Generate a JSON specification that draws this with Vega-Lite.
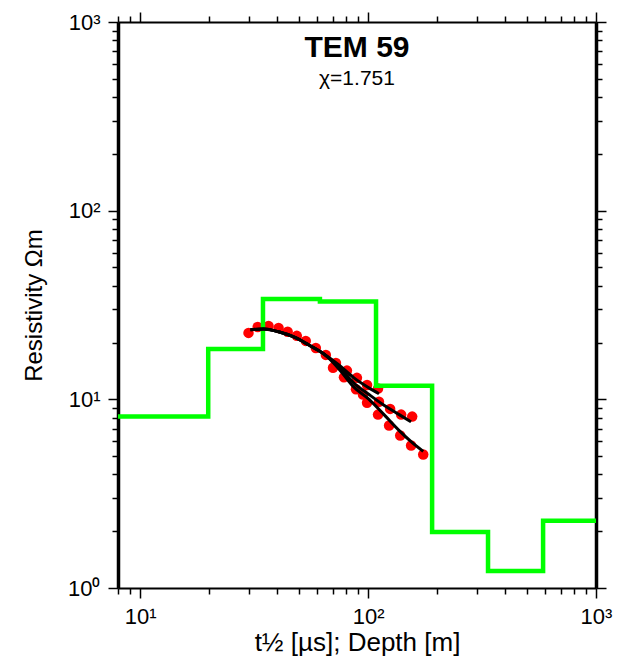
{
  "$schema": "https://vega.github.io/schema/vega-lite/v6.json",
  "width": 478,
  "height": 566,
  "autosize": {"type": "none"},
  "padding": {"left": 118, "top": 22, "right": 21, "bottom": 76},
  "background": "white",
  "config": {
    "view": {"stroke": null},
    "font": "Liberation Sans",
    "axis": {
      "grid": false,
      "domainColor": "black",
      "tickColor": "black",
      "labelColor": "black",
      "titleColor": "black",
      "tickWidth": 1.5,
      "labelFont": "Liberation Sans",
      "titleFont": "Liberation Sans",
      "titleFontWeight": "normal",
      "labelFlush": false,
      "labelOverlap": false,
      "labelBound": false
    }
  },
  "title": {
    "text": "TEM 59",
    "subtitle": "χ=1.751",
    "anchor": "middle",
    "orient": "top",
    "offset": -78,
    "fontSize": 30,
    "fontWeight": "bold",
    "font": "Liberation Sans",
    "color": "black",
    "subtitleFont": "Liberation Sans",
    "subtitleFontSize": 21,
    "subtitleColor": "black",
    "subtitlePadding": 5
  },
  "datasets": {
    "model": [
      {"i": 1, "depth": 8, "rho": 8.1},
      {"i": 2, "depth": 19.9, "rho": 8.1},
      {"i": 3, "depth": 19.9, "rho": 18.5},
      {"i": 4, "depth": 34.6, "rho": 18.5},
      {"i": 5, "depth": 34.6, "rho": 34.0},
      {"i": 6, "depth": 61.5, "rho": 34.0},
      {"i": 7, "depth": 61.5, "rho": 33.0},
      {"i": 8, "depth": 108.4, "rho": 33.0},
      {"i": 9, "depth": 108.4, "rho": 11.8},
      {"i": 10, "depth": 191, "rho": 11.8},
      {"i": 11, "depth": 191, "rho": 1.98},
      {"i": 12, "depth": 336, "rho": 1.98},
      {"i": 13, "depth": 336, "rho": 1.23},
      {"i": 14, "depth": 586, "rho": 1.23},
      {"i": 15, "depth": 586, "rho": 2.27},
      {"i": 16, "depth": 1000, "rho": 2.27}
    ],
    "obs": [
      {"t": 29.9, "rho": 22.5}, {"t": 32.8, "rho": 24.2}, {"t": 36.6, "rho": 24.5},
      {"t": 40.5, "rho": 23.9}, {"t": 44.4, "rho": 22.8}, {"t": 48.7, "rho": 21.7},
      {"t": 53.3, "rho": 20.4}, {"t": 59.0, "rho": 18.7}, {"t": 65.3, "rho": 17.2},
      {"t": 72.3, "rho": 15.6}, {"t": 80.8, "rho": 14.2}, {"t": 89.4, "rho": 13.0},
      {"t": 99.0, "rho": 11.9}, {"t": 110.6, "rho": 11.4},
      {"t": 111.7, "rho": 9.7}, {"t": 125.0, "rho": 8.9}, {"t": 139.7, "rho": 8.3},
      {"t": 156.2, "rho": 8.1},
      {"t": 70.2, "rho": 14.7}, {"t": 78.4, "rho": 13.1}, {"t": 88.5, "rho": 11.3},
      {"t": 95.0, "rho": 10.6}, {"t": 99.0, "rho": 9.6}, {"t": 110.6, "rho": 8.3},
      {"t": 123.7, "rho": 7.26}, {"t": 138.4, "rho": 6.43}, {"t": 154.5, "rho": 5.69},
      {"t": 174.6, "rho": 5.1}
    ],
    "fit": [
      {"curve": "a", "t": 30.5, "rho": 23.4}, {"curve": "a", "t": 34.8, "rho": 23.6},
      {"curve": "a", "t": 40.5, "rho": 22.8}, {"curve": "a", "t": 47.2, "rho": 21.4},
      {"curve": "a", "t": 55.0, "rho": 19.4}, {"curve": "a", "t": 64.0, "rho": 17.4},
      {"curve": "a", "t": 74.5, "rho": 15.2}, {"curve": "a", "t": 86.7, "rho": 13.0},
      {"curve": "a", "t": 101, "rho": 11.5}, {"curve": "a", "t": 111.7, "rho": 10.7},
      {"curve": "b", "t": 30.5, "rho": 23.4}, {"curve": "b", "t": 34.8, "rho": 23.6},
      {"curve": "b", "t": 40.5, "rho": 22.8}, {"curve": "b", "t": 47.2, "rho": 21.4},
      {"curve": "b", "t": 55.0, "rho": 19.4}, {"curve": "b", "t": 64.0, "rho": 17.4},
      {"curve": "b", "t": 74.5, "rho": 14.9}, {"curve": "b", "t": 86.7, "rho": 12.2},
      {"curve": "b", "t": 101, "rho": 10.6}, {"curve": "b", "t": 117.5, "rho": 9.3},
      {"curve": "b", "t": 137, "rho": 8.3}, {"curve": "b", "t": 154.5, "rho": 7.6},
      {"curve": "c", "t": 30.5, "rho": 23.4}, {"curve": "c", "t": 34.8, "rho": 23.6},
      {"curve": "c", "t": 40.5, "rho": 22.8}, {"curve": "c", "t": 47.2, "rho": 21.4},
      {"curve": "c", "t": 55.0, "rho": 19.4}, {"curve": "c", "t": 64.0, "rho": 17.4},
      {"curve": "c", "t": 74.5, "rho": 14.5}, {"curve": "c", "t": 86.7, "rho": 11.6},
      {"curve": "c", "t": 101, "rho": 10.0}, {"curve": "c", "t": 117.5, "rho": 8.3},
      {"curve": "c", "t": 137, "rho": 6.83}, {"curve": "c", "t": 154.5, "rho": 5.97},
      {"curve": "c", "t": 174.6, "rho": 5.3}
    ]
  },
  "layer": [
    {
      "data": {"name": "obs"},
      "mark": {"type": "point", "filled": true, "size": 110, "color": "#ff0000", "opacity": 1, "clip": true},
      "encoding": {
        "x": {
          "field": "t", "type": "quantitative",
          "scale": {"type": "log", "domain": [8, 1000], "nice": false},
          "axis": {
            "orient": "bottom",
            "values": [8, 9, 10, 20, 30, 40, 50, 60, 70, 80, 90, 100, 200, 300, 400, 500, 600, 700, 800, 900, 1000],
            "labelExpr": "datum.value == 10 ? '10¹' : datum.value == 100 ? '10²' : datum.value == 1000 ? '10³' : ''",
            "tickSize": {"condition": {"test": "indexof([1, 10, 100, 1000], datum.value) >= 0", "value": 10}, "value": 6},
            "domainWidth": 2,
            "labelFontSize": 22,
            "labelPadding": 8,
            "title": "t½ [µs]; Depth [m]",
            "titleFontSize": 26,
            "titlePadding": 2
          }
        },
        "y": {
          "field": "rho", "type": "quantitative",
          "scale": {"type": "log", "domain": [1, 1000], "nice": false},
          "axis": {
            "orient": "left",
            "values": [1, 2, 3, 4, 5, 6, 7, 8, 9, 10, 20, 30, 40, 50, 60, 70, 80, 90, 100, 200, 300, 400, 500, 600, 700, 800, 900, 1000],
            "labelExpr": "datum.value == 1 ? '10⁰' : datum.value == 10 ? '10¹' : datum.value == 100 ? '10²' : datum.value == 1000 ? '10³' : ''",
            "tickSize": {"condition": {"test": "indexof([1, 10, 100, 1000], datum.value) >= 0", "value": 10}, "value": 6},
            "domainWidth": 3.5,
            "labelFontSize": 22,
            "labelPadding": 8,
            "title": "Resistivity Ωm",
            "titleFontSize": 24,
            "titlePadding": 21
          }
        }
      }
    },
    {
      "data": {"name": "model"},
      "mark": {"type": "line", "color": "#00ff00", "strokeWidth": 4.5, "clip": true, "strokeJoin": "miter", "strokeCap": "butt"},
      "encoding": {
        "x": {
          "field": "depth", "type": "quantitative",
          "scale": {"type": "log", "domain": [8, 1000], "nice": false},
          "axis": {
            "orient": "top",
            "values": [8, 9, 10, 20, 30, 40, 50, 60, 70, 80, 90, 100, 200, 300, 400, 500, 600, 700, 800, 900, 1000],
            "labels": false,
            "tickSize": {"condition": {"test": "indexof([1, 10, 100, 1000], datum.value) >= 0", "value": 10}, "value": 6},
            "domainWidth": 2,
            "title": null
          }
        },
        "y": {
          "field": "rho", "type": "quantitative",
          "scale": {"type": "log", "domain": [1, 1000], "nice": false},
          "axis": {
            "orient": "right",
            "values": [1, 2, 3, 4, 5, 6, 7, 8, 9, 10, 20, 30, 40, 50, 60, 70, 80, 90, 100, 200, 300, 400, 500, 600, 700, 800, 900, 1000],
            "labels": false,
            "tickSize": {"condition": {"test": "indexof([1, 10, 100, 1000], datum.value) >= 0", "value": 10}, "value": 6},
            "domainWidth": 3.5,
            "title": null
          }
        },
        "order": {"field": "i", "type": "quantitative"}
      }
    },
    {
      "data": {"name": "fit"},
      "mark": {"type": "line", "color": "black", "strokeWidth": 3, "interpolate": "monotone", "clip": true},
      "encoding": {
        "x": {"field": "t", "type": "quantitative", "scale": {"type": "log", "domain": [8, 1000], "nice": false}, "axis": null},
        "y": {"field": "rho", "type": "quantitative", "scale": {"type": "log", "domain": [1, 1000], "nice": false}, "axis": null},
        "detail": {"field": "curve", "type": "nominal"}
      }
    }
  ],
  "resolve": {"axis": {"x": "independent", "y": "independent"}}
}
